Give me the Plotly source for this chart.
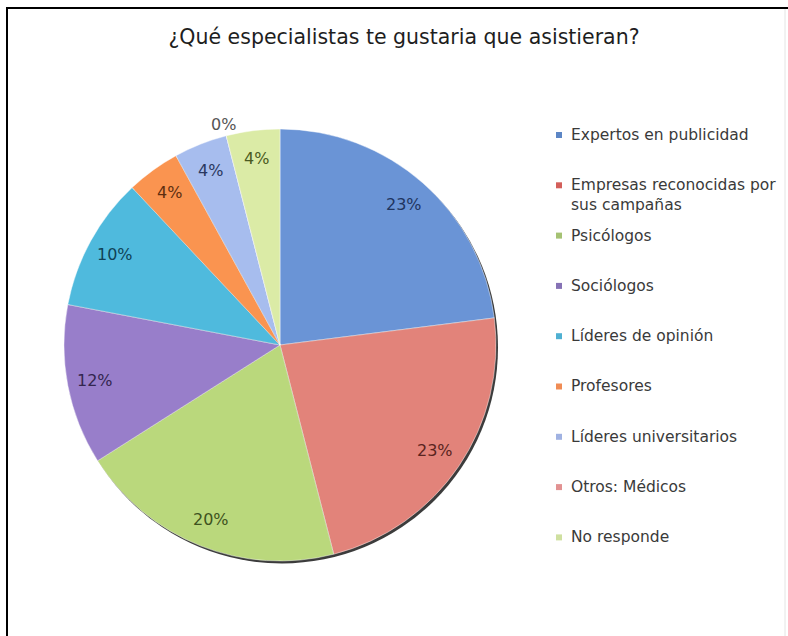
import math
import plotly.graph_objects as go

# Survey answers: which specialists respondents would like to attend
categories = [
    "Expertos en publicidad",
    "Empresas reconocidas por<br>sus campañas",
    "Psicólogos",
    "Sociólogos",
    "Líderes de opinión",
    "Profesores",
    "Líderes universitarios",
    "Otros: Médicos",
    "No responde",
]
percent = [23, 23, 20, 12, 10, 4, 4, 0, 4]

title_text = "¿Qué especialistas te gustaria que asistieran?"

# Styling
slice_colors = ["#6A94D6", "#E2837A", "#BAD87C", "#987ECA", "#4FBADD",
                "#FA9450", "#A7BDEE", "#F0A6A6", "#DBEBA6"]
legend_colors = ["#5C86C5", "#D35F5A", "#A5C273", "#8672B5", "#4FB0D2",
                 "#F08C55", "#A0B2E2", "#E29292", "#CFE0A0"]
label_colors = ["#1F3560", "#5A2420", "#3E5220", "#33264F", "#0F4256",
                "#5E2F10", "#2A3860", "#555555", "#4A5A22"]

W, H = 788, 636
CX, CY, R = 280, 345, 216          # pie centre and radius in pixels

fig = go.Figure()

fig.add_trace(go.Pie(
    labels=categories,
    values=percent,
    sort=False,
    direction="clockwise",
    rotation=0,
    marker=dict(colors=slice_colors,
                line=dict(color="rgba(255,255,255,0.55)", width=0.8)),
    textinfo="none",
    hoverinfo="label+percent",
    showlegend=False,
    domain=dict(x=[(CX - R) / W, (CX + R) / W],
                y=[(H - CY - R) / H, (H - CY + R) / H]),
))

annotations = []
shapes = []

# Percentage labels placed along each slice's mid-angle
total = sum(percent)
cum = 0.0
for val, col in zip(percent, label_colors):
    mid = (cum + val / 2) / total
    cum += val
    theta = 2 * math.pi * mid
    rl = R * (1.055 if val == 0 else 0.87)
    px = CX + rl * math.sin(theta)
    py = CY - rl * math.cos(theta)
    annotations.append(dict(
        x=px / W, y=1 - py / H, xref="paper", yref="paper",
        text=f"{round(100 * val / total)}%", showarrow=False,
        xanchor="center", yanchor="middle",
        font=dict(family="DejaVu Sans", size=16, color=col),
    ))

# Legend drawn as a column of swatches and labels
LEG_TOP, LEG_STEP, LINE_H = 135, 50.3, 20
for i, (name, col) in enumerate(zip(categories, legend_colors)):
    y0 = LEG_TOP + i * LEG_STEP
    nlines = name.count("<br>") + 1
    shapes.append(dict(
        type="rect", xref="paper", yref="paper",
        x0=556 / W, x1=562 / W, y0=1 - (y0 - 3) / H, y1=1 - (y0 + 3) / H,
        fillcolor=col, line=dict(width=0),
    ))
    annotations.append(dict(
        x=569 / W, y=1 - (y0 + (nlines - 1) * LINE_H / 2) / H,
        xref="paper", yref="paper", text=name, showarrow=False,
        xanchor="left", yanchor="middle", align="left",
        font=dict(family="DejaVu Sans", size=15.5, color="#3A3A3A"),
    ))

# Soft shadow on the lower right of the pie
shapes.append(dict(
    type="circle", xref="paper", yref="paper", layer="below",
    x0=(CX - R + 2) / W, x1=(CX + R + 2) / W,
    y0=1 - (CY + R + 2.5) / H, y1=1 - (CY - R + 2.5) / H,
    fillcolor="#3C3C3C", line=dict(width=0),
))

# Chart frame (top and left edges)
shapes.append(dict(type="line", xref="paper", yref="paper",
                   x0=6 / W, x1=1, y0=1 - 8 / H, y1=1 - 8 / H,
                   line=dict(color="#000000", width=2)))
shapes.append(dict(type="line", xref="paper", yref="paper",
                   x0=7 / W, x1=7 / W, y0=1 - 7 / H, y1=0,
                   line=dict(color="#000000", width=2)))
shapes.append(dict(type="line", xref="paper", yref="paper",
                   x0=785 / W, x1=785 / W, y0=1 - 9 / H, y1=0,
                   line=dict(color="#E4E4E4", width=1)))

fig.update_layout(
    width=W, height=H,
    margin=dict(l=0, r=0, t=0, b=0, pad=0),
    paper_bgcolor="#FFFFFF",
    plot_bgcolor="#FFFFFF",
    title=dict(text=title_text, x=404 / W, xanchor="center",
               y=1 - 37 / H, yanchor="middle", yref="container",
               font=dict(family="DejaVu Sans", size=20.5, color="#1E1E1E")),
    annotations=annotations,
    shapes=shapes,
)

fig.write_html("out.html")
